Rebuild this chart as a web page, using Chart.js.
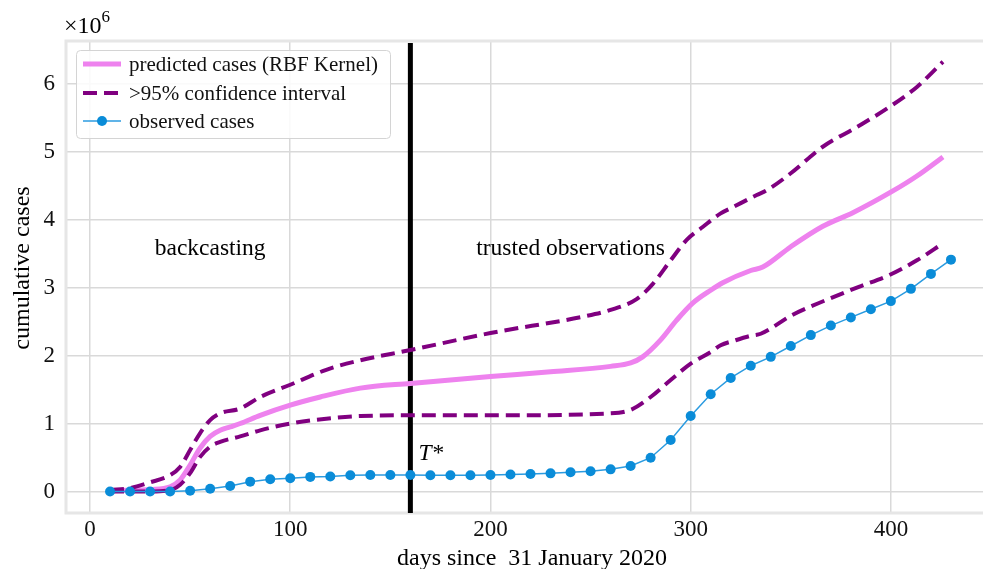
<!DOCTYPE html>
<html>
<head>
<meta charset="utf-8">
<style>
  html, body { margin: 0; padding: 0; background: #ffffff; overflow: hidden; }
  canvas { display: block; }
</style>
<script src="https://cdn.jsdelivr.net/npm/chart.js@4"></script>
</head>
<body>
<canvas id="chart" width="983" height="569"></canvas>
<script>
// Observed cumulative cases, sampled every 10 days
const observedDays = [10,20,30,40,50,60,70,80,90,100,110,120,130,140,150,160,170,180,190,200,210,220,230,240,250,260,270,280,290,300,310,320,330,340,350,360,370,380,390,400,410,420,430];
const observedCases = [0,0,0,0,10000,40000,80000,145000,180000,195000,215000,220000,240000,243000,243000,243000,240000,240000,240000,243000,250000,257000,267000,282000,297000,326000,375000,497000,757000,1110000,1430000,1670000,1850000,1980000,2140000,2300000,2440000,2560000,2680000,2800000,2980000,3200000,3410000];

// GP prediction (RBF kernel)
const predictedDays = [10,20,30,40,45,50,55,60,65,70,75,85,100,115,135,160,200,230,260,270,276,285,293,301,310,316,330,336,350,366,381,401,413,426];
const predictedCases = [10000,20000,30000,70000,170000,390000,640000,810000,900000,950000,1000000,1120000,1270000,1390000,1520000,1590000,1690000,1760000,1840000,1890000,1980000,2230000,2520000,2770000,2960000,3070000,3250000,3300000,3600000,3900000,4100000,4420000,4640000,4920000];

// Upper bound of the >95% confidence interval
const upperDays = [10,20,30,40,45,50,55,60,65,75,85,100,118,135,160,200,246,260,273,281,290,298,306,315,321,333,338,350,366,383,399,413,426];
const upperCases = [20000,50000,135000,240000,360000,610000,860000,1050000,1150000,1220000,1390000,1570000,1790000,1930000,2080000,2330000,2570000,2670000,2830000,3050000,3400000,3700000,3890000,4090000,4180000,4360000,4430000,4680000,5070000,5360000,5650000,5950000,6320000];

// Lower bound of the >95% confidence interval
const lowerDays = [10,20,30,40,45,50,55,60,65,75,85,100,118,135,160,200,260,270,280,290,300,310,315,322,330,335,351,368,384,399,413,426];
const lowerCases = [0,0,0,20000,100000,270000,510000,660000,730000,810000,900000,1000000,1070000,1110000,1120000,1120000,1150000,1200000,1390000,1640000,1880000,2050000,2150000,2220000,2290000,2320000,2600000,2820000,3010000,3180000,3400000,3650000];

const xTicks = [0, 100, 200, 300, 400];
const yTicks = [0, 1, 2, 3, 4, 5, 6];       // in units of 10^6
const cutoffDay = 160;                      // T*

const SERIF = '"Liberation Serif", "Times New Roman", serif';
const PINK = '#ee82ee';
const PURPLE = '#800080';
const BLUE = '#0a8cd8';
const BLUE_LINE = '#2b9be0';

function pts(xs, ys) { return xs.map((x, i) => ({ x: x, y: ys[i] })); }

// Axes frame, cutoff line and annotation texts
const decorations = {
  id: 'decorations',
  beforeDatasetsDraw(chart) {
    const { ctx, chartArea: a, scales } = chart;
    ctx.save();
    // light frame (the right side runs off the canvas)
    ctx.strokeStyle = '#e6e6e6';
    ctx.lineWidth = 3;
    ctx.beginPath();
    ctx.moveTo(chart.width + 2, a.top);
    ctx.lineTo(a.left, a.top);
    ctx.lineTo(a.left, a.bottom);
    ctx.lineTo(chart.width + 2, a.bottom);
    ctx.stroke();
    // T* cutoff
    const xc = scales.x.getPixelForValue(cutoffDay);
    ctx.strokeStyle = '#000';
    ctx.lineWidth = 5;
    ctx.beginPath();
    ctx.moveTo(xc, a.top + 2);
    ctx.lineTo(xc, a.bottom);
    ctx.stroke();
    ctx.restore();
  },
  afterDatasetsDraw(chart) {
    const { ctx, scales } = chart;
    const X = v => scales.x.getPixelForValue(v);
    const Y = v => scales.y.getPixelForValue(v);
    ctx.save();
    ctx.fillStyle = '#000';
    ctx.textBaseline = 'alphabetic';

    ctx.font = '23.5px ' + SERIF;
    ctx.textAlign = 'center';
    ctx.fillText('backcasting', X(60), Y(3.48e6));
    ctx.fillText('trusted observations', X(240), Y(3.48e6));

    // T*
    ctx.textAlign = 'left';
    ctx.font = 'italic 23.5px ' + SERIF;
    const tx = X(164), ty = Y(0.46e6);
    ctx.fillText('T', tx, ty);
    const tw = ctx.measureText('T').width;
    ctx.font = '23.5px ' + SERIF;
    ctx.fillText('*', tx + tw + 1, ty);

    // axis titles
    ctx.font = '24px ' + SERIF;
    ctx.textAlign = 'center';
    ctx.fillText('days since  31 January 2020', 532, 565);
    ctx.save();
    ctx.translate(29, 268);
    ctx.rotate(-Math.PI / 2);
    ctx.fillText('cumulative cases', 0, 0);
    ctx.restore();

    // scale multiplier
    ctx.textAlign = 'left';
    ctx.font = '24px ' + SERIF;
    ctx.fillText('\u00d710', 64, 33);
    const mw = ctx.measureText('\u00d710').width;
    ctx.font = '17px ' + SERIF;
    ctx.fillText('6', 64 + mw, 22);

    // legend
    const bx = 76, by = 50, bw = 314, bh = 88;
    ctx.fillStyle = 'rgba(255,255,255,0.85)';
    ctx.strokeStyle = '#d4d4d4';
    ctx.lineWidth = 1;
    ctx.beginPath();
    ctx.roundRect(bx + 0.5, by + 0.5, bw, bh, 4);
    ctx.fill();
    ctx.stroke();

    const ds = chart.data.datasets;
    const rows = [
      { d: ds.find(d => d.key === 'pred'), y: 64 },
      { d: ds.find(d => d.key === 'upper'), y: 93 },
      { d: ds.find(d => d.key === 'obs'), y: 121 }
    ];
    const x0 = 83, x1 = 121;
    rows.forEach(r => {
      const d = r.d;
      ctx.save();
      ctx.strokeStyle = d.borderColor;
      ctx.lineWidth = d.borderWidth;
      ctx.setLineDash(d.borderDash || []);
      ctx.beginPath();
      ctx.moveTo(x0, r.y);
      ctx.lineTo(x1, r.y);
      ctx.stroke();
      if (d.pointRadius) {
        ctx.fillStyle = d.pointBackgroundColor;
        ctx.beginPath();
        ctx.arc((x0 + x1) / 2, r.y, d.pointRadius, 0, Math.PI * 2);
        ctx.fill();
      }
      ctx.restore();
      ctx.fillStyle = '#111';
      ctx.font = '21px ' + SERIF;
      ctx.textBaseline = 'middle';
      ctx.fillText(d.legendText, 129, r.y + 1);
    });
    ctx.restore();
  }
};

new Chart(document.getElementById('chart'), {
  type: 'line',
  data: {
    datasets: [
      {
        key: 'obs',
        label: 'observed cases',
        legendText: 'observed cases',
        data: pts(observedDays, observedCases),
        borderColor: BLUE_LINE,
        borderWidth: 1.5,
        pointRadius: 5,
        pointBackgroundColor: BLUE,
        pointBorderWidth: 0,
        pointHoverRadius: 5,
        tension: 0,
        order: 0
      },
      {
        key: 'lower',
        label: '>95% confidence interval (lower)',
        legendText: '>95% confidence interval',
        data: pts(lowerDays, lowerCases),
        borderColor: PURPLE,
        borderWidth: 4,
        borderDash: [14, 7],
        pointRadius: 0,
        cubicInterpolationMode: 'monotone',
        order: 1
      },
      {
        key: 'upper',
        label: '>95% confidence interval',
        legendText: '>95% confidence interval',
        data: pts(upperDays, upperCases),
        borderColor: PURPLE,
        borderWidth: 4,
        borderDash: [14, 7],
        pointRadius: 0,
        cubicInterpolationMode: 'monotone',
        order: 2
      },
      {
        key: 'pred',
        label: 'predicted cases (RBF Kernel)',
        legendText: 'predicted cases (RBF Kernel)',
        data: pts(predictedDays, predictedCases),
        borderColor: PINK,
        borderWidth: 5,
        pointRadius: 0,
        cubicInterpolationMode: 'monotone',
        order: 3
      }
    ]
  },
  options: {
    responsive: false,
    animation: false,
    devicePixelRatio: 1,
    layout: { autoPadding: false, padding: { top: 41, left: 0, right: 0, bottom: 0 } },
    plugins: { legend: { display: false }, tooltip: { enabled: false } },
    scales: {
      x: {
        type: 'linear',
        min: -12,
        max: 446,
        afterBuildTicks: s => { s.ticks = xTicks.map(v => ({ value: v })); },
        ticks: { font: { family: SERIF, size: 23 }, color: '#111', padding: 3, maxRotation: 0 },
        grid: { color: '#d9d9d9', lineWidth: 1.5, drawTicks: false },
        border: { display: false },
        afterFit: s => { s.height = 56; }
      },
      y: {
        type: 'linear',
        min: -316000,
        max: 6625000,
        afterBuildTicks: s => { s.ticks = yTicks.map(v => ({ value: v * 1e6 })); },
        ticks: { font: { family: SERIF, size: 23 }, color: '#111', padding: 11, callback: v => String(Math.round(v / 1e6)) },
        grid: { color: '#d9d9d9', lineWidth: 1.5, drawTicks: false },
        border: { display: false },
        afterFit: s => { s.width = 66; }
      }
    }
  },
  plugins: [decorations]
});
</script>
</body>
</html>
